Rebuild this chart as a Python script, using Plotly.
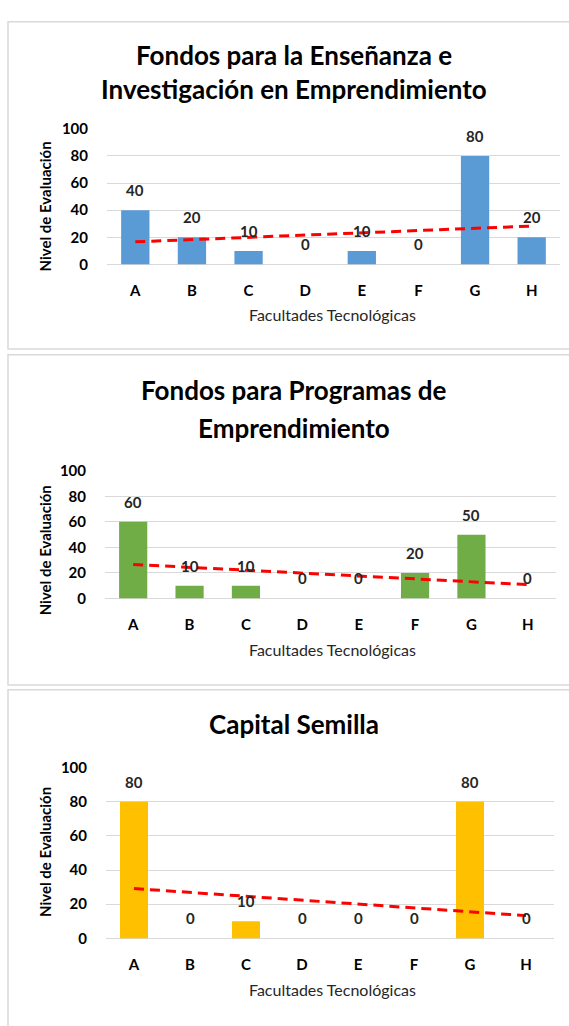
import plotly.graph_objects as go
import numpy as np

categories = ["A", "B", "C", "D", "E", "F", "G", "H"]
ensenanza = [40, 20, 10, 0, 10, 0, 80, 20]
programas = [60, 10, 10, 0, 0, 20, 50, 0]
capital = [80, 0, 10, 0, 0, 0, 80, 0]
title_lines = [
    ["Fondos para la Enseñanza e", "Investigación en Emprendimiento"],
    ["Fondos para Programas de", "Emprendimiento"],
    ["Capital Semilla"],
]
y_title = "Nivel de Evaluación"
x_title = "Facultades Tecnológicas"
y_ticks = [0, 20, 40, 60, 80, 100]

series = [ensenanza, programas, capital]
colors = ["#5B9BD5", "#70AD47", "#FFC000"]

W, H = 569, 1026
def px(p):
    return p / W
def py(p):
    return 1 - p / H

# pixel layout of each panel (plot area, titles, borders)
panels = [
    dict(x0=107, x1=560, yb=259, yt=121, title_y=[46, 80], xt_y=310, yt_x=45, yt_y=200, box=(8, 12, 345)),
    dict(x0=105, x1=556, yb=599, yt=469, title_y=[387, 425], xt_y=651, yt_x=45, yt_y=550, box=(8, 351, 687)),
    dict(x0=106, x1=554, yb=945, yt=771, title_y=[727], xt_y=997, yt_x=45, yt_y=857, box=(8, 692, 1040)),
]

FONT = "Lato"
fig = go.Figure()
annotations = []
shapes = []
layout_axes = {}

for i, (vals, col, p) in enumerate(zip(series, colors, panels)):
    n = i + 1
    xa = "x" if n == 1 else f"x{n}"
    ya = "y" if n == 1 else f"y{n}"
    fig.add_trace(go.Bar(
        x=categories, y=vals, xaxis=xa, yaxis=ya, width=0.5,
        marker=dict(color=col, line=dict(width=0)), showlegend=False,
        hoverinfo="x+y",
    ))
    idx = np.arange(len(vals))
    slope, intercept = np.polyfit(idx, np.array(vals, dtype=float), 1)
    trend = slope * idx + intercept
    fig.add_trace(go.Scatter(
        x=categories, y=trend, xaxis=xa, yaxis=ya, mode="lines",
        line=dict(color="#FF0000", width=3, dash="10px,6px"), showlegend=False,
        hoverinfo="skip",
    ))
    for c, v in zip(categories, vals):
        annotations.append(dict(
            x=c, y=v, xref=xa, yref=ya, text=str(v), showarrow=False,
            yshift=20, font=dict(family=FONT, size=15, color="#262626", weight="bold"),
        ))
    # titles
    for line, ty in zip(title_lines[i], p["title_y"]):
        annotations.append(dict(
            x=px(294), y=py(ty), xref="paper", yref="paper", text=line, showarrow=False,
            xanchor="center", yanchor="middle",
            font=dict(family=FONT, size=26, color="#000000", weight="bold"),
        ))
    annotations.append(dict(
        x=px(332), y=py(p["xt_y"]), xref="paper", yref="paper", text=x_title, showarrow=False,
        xanchor="center", yanchor="middle",
        font=dict(family=FONT, size=16, color="#262626"),
    ))
    annotations.append(dict(
        x=px(p["yt_x"]), y=py(p["yt_y"]), xref="paper", yref="paper", text=y_title, showarrow=False,
        xanchor="center", yanchor="middle", textangle=-90,
        font=dict(family=FONT, size=15, color="#000000", weight="bold"),
    ))
    bx, by0, by1 = p["box"]
    shapes.append(dict(
        type="rect", xref="paper", yref="paper",
        x0=px(bx), x1=px(W + 10), y0=py(by1), y1=py(by0),
        line=dict(color="#D9D9D9", width=1.5), fillcolor="rgba(0,0,0,0)", layer="below",
    ))
    xkey = "xaxis" if n == 1 else f"xaxis{n}"
    ykey = "yaxis" if n == 1 else f"yaxis{n}"
    layout_axes[xkey] = dict(
        domain=[px(p["x0"]), px(p["x1"])], anchor=ya, type="category",
        categoryorder="array", categoryarray=categories,
        showgrid=False, showline=False, zeroline=False,
        ticks="outside", ticklen=13, tickcolor="rgba(0,0,0,0)",
        tickfont=dict(family=FONT, size=15, color="#000000", weight="bold"),
    )
    layout_axes[ykey] = dict(
        domain=[py(p["yb"]), py(p["yt"])], anchor=xa, range=[0, 100],
        tickvals=y_ticks, showgrid=True, gridcolor="#D9D9D9", gridwidth=1,
        zeroline=True, zerolinecolor="#D9D9D9", zerolinewidth=1, showline=False,
        ticks="outside", ticklen=15, tickcolor="rgba(0,0,0,0)",
        tickfont=dict(family=FONT, size=15, color="#000000", weight="bold"),
    )

for tr in fig.data:
    tr.cliponaxis = False

fig.update_layout(
    width=W, height=H, margin=dict(l=0, r=0, t=0, b=0),
    paper_bgcolor="white", plot_bgcolor="white",
    annotations=annotations, shapes=shapes, bargap=0.5,
    **layout_axes,
)
fig.write_html(
    "out.html",
    config={"displayModeBar": False},
    post_script="document.body.style.margin='0';document.body.style.overflow='hidden';",
)
